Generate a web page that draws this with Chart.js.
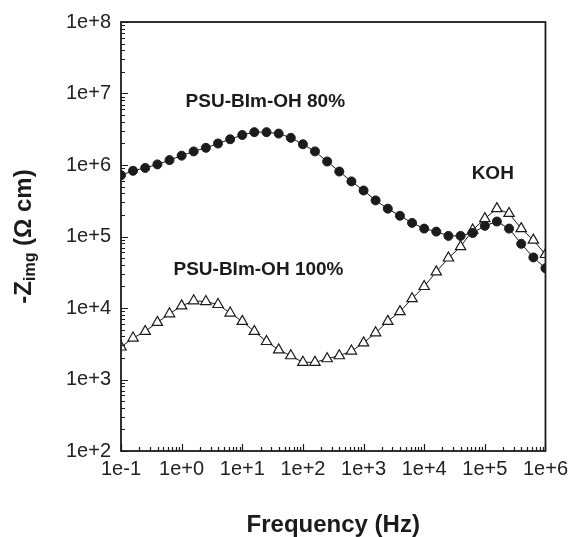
<!DOCTYPE html>
<html>
<head>
<meta charset="utf-8">
<script src="https://cdn.jsdelivr.net/npm/chart.js@4.4.0/dist/chart.umd.min.js"></script>
<style>
  html, body { margin: 0; padding: 0; background: #fff; }
  #wrap { width: 574px; height: 537px; }
</style>
</head>
<body>
<div id="wrap"><canvas id="chart" width="574" height="537"></canvas></div>
<script>
// frequency (Hz), 5 points per decade
const freq = [
  0.1, 0.158, 0.251, 0.398, 0.631,
  1, 1.58, 2.51, 3.98, 6.31,
  10, 15.8, 25.1, 39.8, 63.1,
  100, 158, 251, 398, 631,
  1e3, 1.58e3, 2.51e3, 3.98e3, 6.31e3,
  1e4, 1.58e4, 2.51e4, 3.98e4, 6.31e4,
  1e5, 1.58e5, 2.51e5, 3.98e5, 6.31e5,
  1e6
];

// -Zimg (ohm cm)
const psu80 = [
  7.2e5, 8.3e5, 9.1e5, 1.02e6, 1.17e6,
  1.35e6, 1.55e6, 1.74e6, 2.0e6, 2.29e6,
  2.63e6, 2.88e6, 2.88e6, 2.75e6, 2.4e6,
  1.95e6, 1.55e6, 1.12e6, 8.1e5, 5.9e5,
  4.4e5, 3.2e5, 2.45e5, 1.95e5, 1.55e5,
  1.29e5, 1.17e5, 1.02e5, 1.02e5, 1.12e5,
  1.41e5, 1.62e5, 1.29e5, 7.9e4, 5.1e4,
  3.6e4
];
const psu100 = [
  2.85e3, 3.8e3, 4.7e3, 6.3e3, 8.3e3,
  1.07e4, 1.26e4, 1.23e4, 1.12e4, 8.5e3,
  6.5e3, 4.7e3, 3.4e3, 2.6e3, 2.15e3,
  1.74e3, 1.74e3, 1.95e3, 2.15e3, 2.5e3,
  3.25e3, 4.5e3, 6.5e3, 8.9e3, 1.35e4,
  2.0e4, 3.2e4, 5.0e4, 7.2e4, 1.23e5,
  1.78e5, 2.45e5, 2.1e5, 1.29e5, 8.9e4,
  5.6e4
];

const xTickValues = [0.1, 1, 10, 100, 1e3, 1e4, 1e5, 1e6];
const xTickLabels = ['1e-1', '1e+0', '1e+1', '1e+2', '1e+3', '1e+4', '1e+5', '1e+6'];
const yTickValues = [1e2, 1e3, 1e4, 1e5, 1e6, 1e7, 1e8];
const yTickLabels = ['1e+2', '1e+3', '1e+4', '1e+5', '1e+6', '1e+7', '1e+8'];

const notes = [
  { text: 'PSU-BIm-OH 80%', x: 24, y: 7.6e6 },
  { text: 'KOH', x: 1.35e5, y: 7.5e5 },
  { text: 'PSU-BIm-OH 100%', x: 18.5, y: 3.4e4 }
];

const FONT = "'Liberation Sans', Arial, sans-serif";
const INK = '#1b1b1b';

// box, inward log ticks, labels in the plot, y title with subscript
const decor = {
  id: 'decor',
  afterDatasetsDraw(chart) {
    const { ctx, chartArea: a, scales: { x, y } } = chart;
    ctx.save();
    ctx.strokeStyle = INK;
    ctx.lineWidth = 1.2;
    ctx.beginPath();
    for (let e = -1; e <= 6; e++) {
      for (let k = 1; k <= 9; k++) {
        const v = k * Math.pow(10, e);
        if (v > 1e6 * 1.0001) break;
        const px = Math.round(x.getPixelForValue(v)) + 0.5;
        const len = k === 1 ? 7 : 4;
        ctx.moveTo(px, a.bottom);
        ctx.lineTo(px, a.bottom - len);
      }
    }
    for (let e = 2; e <= 8; e++) {
      for (let k = 1; k <= 9; k++) {
        const v = k * Math.pow(10, e);
        if (v > 1e8 * 1.0001) break;
        const py = Math.round(y.getPixelForValue(v)) + 0.5;
        const len = k === 1 ? 7 : 4;
        ctx.moveTo(a.left, py);
        ctx.lineTo(a.left + len, py);
      }
    }
    ctx.stroke();

    ctx.lineWidth = 1.8;
    ctx.strokeRect(a.left, a.top, a.right - a.left, a.bottom - a.top);

    ctx.fillStyle = INK;
    ctx.font = 'bold 19px ' + FONT;
    ctx.textAlign = 'center';
    ctx.textBaseline = 'middle';
    notes.forEach(n => {
      ctx.fillText(n.text, x.getPixelForValue(n.x), y.getPixelForValue(n.y));
    });

    // y title: -Z_img (Ω cm)
    ctx.translate(24, (a.top + a.bottom) / 2);
    ctx.rotate(-Math.PI / 2);
    ctx.textAlign = 'left';
    const big = 'bold 24px ' + FONT, small = 'bold 16px ' + FONT;
    ctx.font = big;
    const w1 = ctx.measureText('-Z').width;
    const w3 = ctx.measureText(' (\u03A9 cm)').width;
    ctx.font = small;
    const w2 = ctx.measureText('img').width;
    let cx = -(w1 + w2 + w3) / 2;
    ctx.font = big;
    ctx.fillText('-Z', cx, 0);
    cx += w1;
    ctx.font = small;
    ctx.fillText('img', cx, 7);
    cx += w2;
    ctx.font = big;
    ctx.fillText(' (\u03A9 cm)', cx, 0);
    ctx.restore();
  }
};

new Chart(document.getElementById('chart'), {
  type: 'scatter',
  data: {
    datasets: [
      {
        label: 'PSU-BIm-OH 80%',
        data: freq.map((f, i) => ({ x: f, y: psu80[i] })),
        showLine: true,
        borderColor: INK,
        borderWidth: 1,
        pointStyle: 'circle',
        pointRadius: 4.5,
        pointBackgroundColor: INK,
        pointBorderColor: INK,
        order: 0
      },
      {
        label: 'PSU-BIm-OH 100%',
        data: freq.map((f, i) => ({ x: f, y: psu100[i] })),
        showLine: true,
        borderColor: INK,
        borderWidth: 1,
        pointStyle: 'triangle',
        pointRadius: 6,
        pointBackgroundColor: '#fff',
        pointBorderColor: INK,
        pointBorderWidth: 1.2,
        order: 1
      }
    ]
  },
  options: {
    responsive: false,
    animation: false,
    events: [],
    layout: { padding: { top: 22, right: 24, left: 0, bottom: 0 } },
    plugins: { legend: { display: false }, tooltip: { enabled: false } },
    scales: {
      x: {
        type: 'logarithmic',
        min: 0.1,
        max: 1e6,
        grid: { display: false, drawTicks: false },
        border: { display: false },
        afterBuildTicks: s => { s.ticks = xTickValues.map(v => ({ value: v })); },
        ticks: {
          autoSkip: false,
          maxRotation: 0,
          padding: 6,
          color: '#222',
          font: { family: FONT, size: 20 },
          callback: (v) => xTickLabels[xTickValues.indexOf(v)]
        },
        title: {
          display: true,
          text: 'Frequency (Hz)',
          color: INK,
          font: { family: FONT, size: 24, weight: 'bold' },
          padding: { top: 0, bottom: -3 }
        },
        afterFit: s => { s.height = 86; }
      },
      y: {
        type: 'logarithmic',
        min: 1e2,
        max: 1e8,
        grid: { display: false, drawTicks: false },
        border: { display: false },
        afterBuildTicks: s => { s.ticks = yTickValues.map(v => ({ value: v })); },
        ticks: {
          autoSkip: false,
          padding: 10,
          color: '#222',
          font: { family: FONT, size: 20 },
          callback: (v) => yTickLabels[yTickValues.indexOf(v)]
        },
        afterFit: s => { s.width = 121; }
      }
    }
  },
  plugins: [decor]
});
</script>
</body>
</html>
